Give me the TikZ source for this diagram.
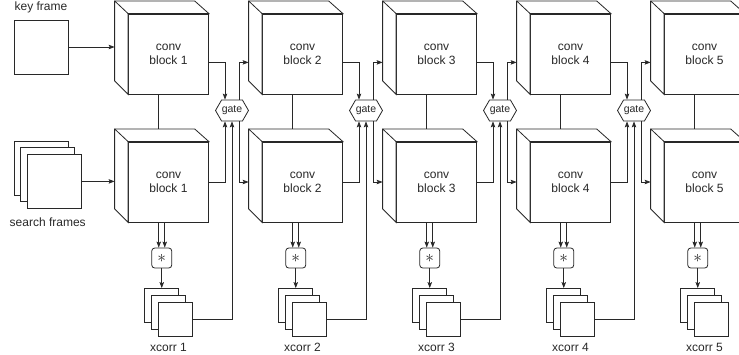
\documentclass[tikz,border=0pt]{standalone}
\usepackage{fontspec}
\setmainfont{Liberation Sans}
\usetikzlibrary{arrows.meta, calc, positioning, shapes.symbols}
\definecolor{linegray}{RGB}{40,40,40}

\begin{document}
\begin{tikzpicture}[x=1pt, y=-1pt, line width=0.8pt, color=linegray,
    every node/.style={font=\fontsize{12}{14}\selectfont},
    face/.style={draw, fill=white, minimum size=80pt, inner sep=0pt, align=center},
    frame/.style={draw, fill=white, inner sep=0pt},
    gatebox/.style={draw, fill=white, signal, signal to=west and east, signal pointer angle=120,
      minimum width=33pt, minimum height=21pt, inner sep=0pt, font=\fontsize{10.5}{12}\selectfont},
    starbox/.style={draw, fill=white, rounded corners=3pt, minimum size=20pt, inner sep=0pt,
      font=\fontsize{17}{17}\selectfont},
    arr/.style={-{Stealth[length=6pt, width=4.5pt, inset=1.2pt]}}]
  \useasboundingbox (0,0) rectangle (739,354);
  % inputs
  \node[frame, minimum size=54pt] (kf) at (41,47) {};
  \node[above=3pt of kf] (kflbl) {key frame};
  \node[frame, minimum size=54pt] (sf1) at (41,168) {};
  \node[frame, minimum size=54pt] (sf2) at (47.7,174.7) {};
  \node[frame, minimum size=54pt] (sf3) at (54.4,181.4) {};
  \node[below=5pt] (sflbl) at (sf2.center |- sf3.south) {search frames};
  % conv blocks, xcorr
  \foreach \i in {1,...,5}{
    \pgfmathsetmacro{\X}{134*(\i-1)}
    \node[face] (t\i) at (168.5+\X,54) {conv\\block \i};
    \filldraw[fill=white] (t\i.south west) -- ++(-13.5,-13.5) -- ++(0,-80) coordinate (tc\i)
      -- ++(80,0) -- (t\i.north east) -- (t\i.north west) -- cycle;
    \draw (t\i.north west) -- (tc\i);
    \coordinate (tin\i) at ($(tc\i)+(0,61.5)$);
    \node[face] (b\i) at (168.5+\X,182) {conv\\block \i};
    \filldraw[fill=white] (b\i.south west) -- ++(-13.5,-13.5) -- ++(0,-80) coordinate (bc\i)
      -- ++(80,0) -- (b\i.north east) -- (b\i.north west) -- cycle;
    \draw (b\i.north west) -- (bc\i);
    \coordinate (bin\i) at (bc\i |- b\i.east);
    \node[starbox] (s\i) at (161.75+\X,258) {$\ast$};
    \draw ([xshift=-3pt]s\i.north |- t\i.south) -- ([xshift=-3pt]s\i.north |- bc\i);
    \draw[arr] ([xshift=-3pt]s\i.north |- b\i.south) -- ([xshift=-3pt]s\i.north);
    \draw[arr] ([xshift=3pt]s\i.north |- b\i.south) -- ([xshift=3pt]s\i.north);
    \node[frame, minimum size=34pt] (xa\i) at (161.75+\X,305.5) {};
    \node[frame, minimum size=34pt] (xb\i) at (168.45+\X,312.2) {};
    \node[frame, minimum size=34pt] (xc\i) at (175.15+\X,318.9) {};
    \draw[arr] (s\i) -- (xa\i);
    \node[below=3pt] (xl\i) at (xb\i.center |- xc\i.south) {xcorr \i};
  }
  \draw[arr] (kf.east) -- (kf.east -| tc1);
  \draw[arr] (sf3.east) -- (sf3.east -| bc1);
  % gates
  \foreach \i [evaluate=\i as \j using int(\i+1)] in {1,...,4}{
    \pgfmathsetmacro{\X}{134*(\i-1)}
    \node[gatebox] (g\i) at (232+\X,110.5) {gate};
    \draw[arr] ([yshift=-8pt]t\i.east) -| ([xshift=-7pt]g\i.north);
    \draw[arr] ([xshift=7pt]g\i.north) |- (tin\j);
    \draw[arr] (b\i.east) -| ([xshift=-7pt]g\i.south);
    \draw[arr] (xc\i.east) -| (g\i.south);
    \draw[arr] ([xshift=7pt]g\i.south) |- (bin\j);
  }
\end{tikzpicture}
\end{document}
